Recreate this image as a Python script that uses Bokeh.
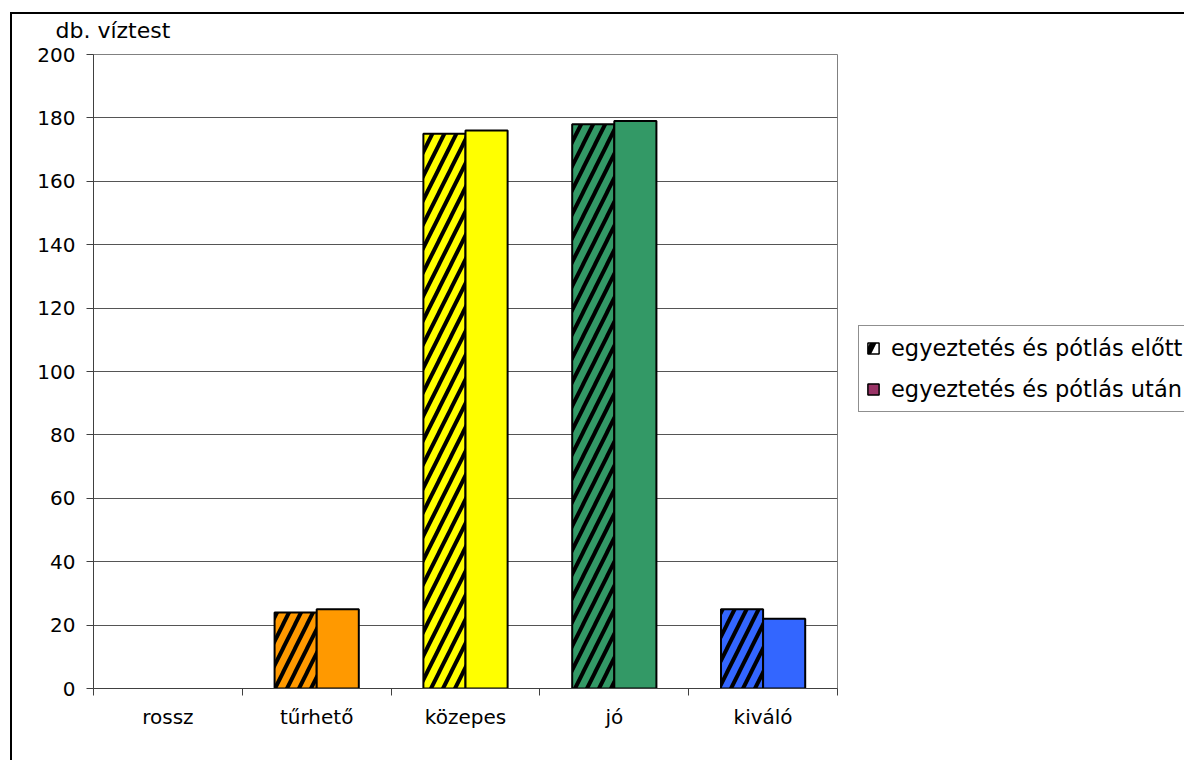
from bokeh.plotting import figure
from bokeh.models import Range1d, FixedTicker, Legend, LegendItem, Title, ColumnDataSource
from bokeh.embed import file_html
from bokeh.resources import INLINE

categories = ["rossz", "tűrhető", "közepes", "jó", "kiváló"]
before = [0, 24, 175, 178, 25]
after = [0, 25, 176, 179, 22]
bar_colors = ["#FF0000", "#FF9900", "#FFFF00", "#339966", "#3366FF"]
series_names = ["egyeztetés és pótlás előtt", "egyeztetés és pótlás után"]
legend_colors = ["#FFFFFF", "#993366"]
y_ticks = [0, 20, 40, 60, 80, 100, 120, 140, 160, 180, 200]
y_label = "db. víztest"

FONT = "DejaVu Sans"
BAR_W = 0.283

centers = [i + 0.5 for i in range(len(categories))]
src = ColumnDataSource(dict(
    cat=categories,
    xb=[c - BAR_W / 2 for c in centers],
    xa=[c + BAR_W / 2 for c in centers],
    before=before,
    after=after,
    color=bar_colors,
    la_b=[1 if v > 0 else 0 for v in before],
    la_a=[1 if v > 0 else 0 for v in after],
))

p = figure(width=1184, height=760, output_backend="svg", toolbar_location=None,
           x_range=Range1d(0, len(categories)), y_range=Range1d(0, 200),
           min_border_left=93, min_border_top=54, min_border_right=347, min_border_bottom=72,
           frame_width=744, frame_height=634)
# outer chart-area border (left and top edges visible) drawn behind the transparent canvas
p.styles = {
    "background-image": "linear-gradient(#000,#000), linear-gradient(#000,#000)",
    "background-size": "2px 100%, 100% 2px",
    "background-position": "10px 12px, 10px 12px",
    "background-repeat": "no-repeat",
}
p.background_fill_color = "white"
p.border_fill_alpha = 0
p.outline_line_color = "#808080"
p.outline_line_width = 1

# bars
p.vbar(x="xb", top="before", width=BAR_W, source=src, fill_color="color",
       line_color="black", line_width=2, line_alpha="la_b", hatch_pattern="/",
       hatch_color="black", hatch_weight=4, hatch_scale=24)
p.vbar(x="xa", top="after", width=BAR_W, source=src, fill_color="color",
       line_color="black", line_width=2, line_alpha="la_a")

# axes
p.xgrid.visible = False
p.ygrid.grid_line_color = "#555555"
p.ygrid.grid_line_width = 1
p.yaxis.ticker = FixedTicker(ticks=y_ticks)
p.yaxis.axis_line_color = "#404040"
p.yaxis.major_tick_line_color = "#404040"
p.yaxis.major_tick_out = 7
p.yaxis.major_tick_in = 0
p.yaxis.minor_tick_line_color = None
p.yaxis.major_label_standoff = 11
p.yaxis.major_label_text_font = FONT
p.yaxis.major_label_text_font_size = "20px"
p.yaxis.major_label_text_color = "black"

p.xaxis.ticker = FixedTicker(ticks=centers, minor_ticks=list(range(len(categories) + 1)))
p.xaxis.major_label_overrides = {c: name for c, name in zip(centers, categories)}
p.xaxis.axis_line_color = "#404040"
p.xaxis.major_tick_out = 0
p.xaxis.major_tick_in = 0
p.xaxis.minor_tick_out = 7
p.xaxis.minor_tick_in = 0
p.xaxis.minor_tick_line_color = "#404040"
p.xaxis.major_label_standoff = 9
p.xaxis.major_label_text_font = FONT
p.xaxis.major_label_text_font_size = "20px"
p.xaxis.major_label_text_color = "black"

# y label as title at top-left
t = Title(text=y_label, align="left", offset=-38, text_font=FONT,
          text_font_size="22px", text_font_style="normal", text_color="black", standoff=24)
p.add_layout(t, "above")

# legend (proxy renderers, not drawn in the plot)
leg_src = ColumnDataSource(dict(x=[centers[0]] * 2, top=[0, 0], color=legend_colors))
r1 = p.vbar(x="x", top="top", width=0.1, source=leg_src, fill_color=legend_colors[0],
            line_color="black", line_width=1.5, hatch_pattern="/", hatch_color="black",
            hatch_weight=6, hatch_scale=28, visible=False)
r2 = p.vbar(x="x", top="top", width=0.1, source=leg_src, fill_color=legend_colors[1],
            line_color="black", line_width=1.5, visible=False)
legend = Legend(items=[LegendItem(label=series_names[0], renderers=[r1]),
                       LegendItem(label=series_names[1], renderers=[r2])],
                location=(21, 276), orientation="vertical",
                label_text_font=FONT, label_text_font_size="22.5px", label_text_color="black",
                glyph_width=14, glyph_height=14, label_standoff=11,
                padding=7, spacing=11, label_height=30, margin=0,
                border_line_color="#202020", border_line_width=1,
                background_fill_color="white", background_fill_alpha=1)
p.add_layout(legend, "right")

open("out.html", "w").write(file_html(p, INLINE))
